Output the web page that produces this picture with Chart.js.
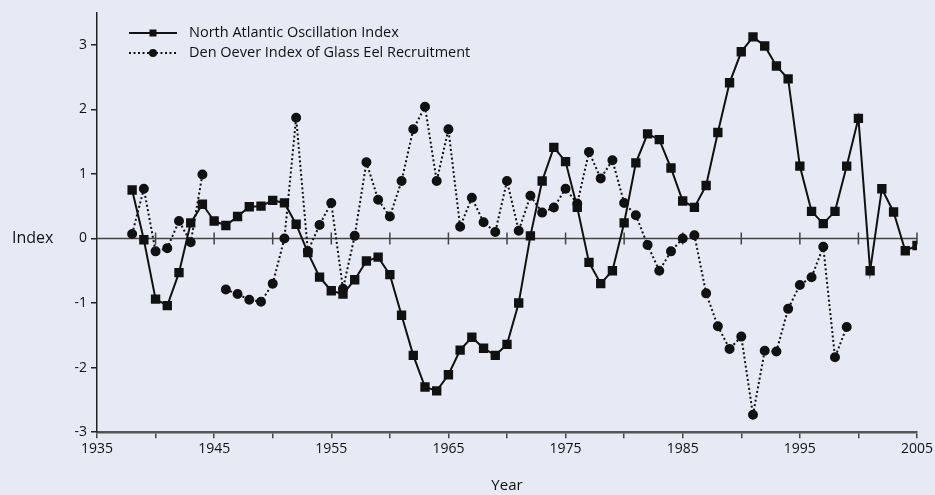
<!DOCTYPE html>
<html>
<head>
<meta charset="utf-8">
<script src="https://cdn.jsdelivr.net/npm/chart.js@4"></script>
<style>
  html, body { margin: 0; padding: 0; background: #e7e9f4; }
  #wrap { width: 935px; height: 495px; }
</style>
</head>
<body>
<div id="wrap"><canvas id="chart"></canvas></div>
<script>
// data
const years = [];
for (let y = 1938; y <= 2005; y++) years.push(y);

const naoValues = [
    0.75, -0.02, -0.94, -1.04, -0.53, 0.24, 0.53, 0.27, 0.20, 0.34,
    0.49, 0.50, 0.59, 0.55, 0.22, -0.22, -0.60, -0.81, -0.86, -0.64,
    -0.35, -0.29, -0.56, -1.19, -1.81, -2.30, -2.36, -2.11, -1.73, -1.53,
    -1.70, -1.81, -1.64, -1.00, 0.04, 0.89, 1.41, 1.19, 0.48, -0.37,
    -0.70, -0.50, 0.24, 1.17, 1.62, 1.53, 1.09, 0.58, 0.48, 0.82,
    1.64, 2.41, 2.89, 3.12, 2.98, 2.67, 2.47, 1.12, 0.42, 0.23,
    0.42, 1.12, 1.86, -0.50, 0.77, 0.41, -0.19, -0.11
];

const eelValues = [
    0.07, 0.77, -0.20, -0.15, 0.27, -0.06, 0.99, null, -0.79, -0.86,
    -0.95, -0.98, -0.70, 0.00, 1.87, -0.20, 0.21, 0.55, -0.78, 0.04,
    1.18, 0.60, 0.34, 0.89, 1.69, 2.04, 0.89, 1.69, 0.18, 0.63,
    0.25, 0.10, 0.89, 0.12, 0.66, 0.40, 0.48, 0.77, 0.54, 1.34,
    0.93, 1.21, 0.55, 0.36, -0.10, -0.50, -0.20, 0.00, 0.05, -0.85,
    -1.36, -1.71, -1.52, -2.73, -1.74, -1.75, -1.09, -0.72, -0.60, -0.13,
    -1.84, -1.37
];

const seriesNames = ['North Atlantic Oscillation Index', 'Den Oever Index of Glass Eel Recruitment'];
const yTickValues = [-3, -2, -1, 0, 1, 2, 3];
const xLabelYears = [1935, 1945, 1955, 1965, 1975, 1985, 1995, 2005];

const FONT = "'Open Sans', sans-serif";
const INK = '#111';

function toPoints(vals) {
    return vals.map((v, i) => ({ x: years[i], y: v }));
}

// zero line with crossing ticks, plus the "Index" label and legend
const extras = {
    id: 'extras',
    beforeDatasetsDraw(chart) {
        const { ctx, chartArea, scales } = chart;
        const y0 = scales.y.getPixelForValue(0);
        ctx.save();
        ctx.strokeStyle = '#444';
        ctx.lineWidth = 1.5;
        ctx.beginPath();
        ctx.moveTo(chartArea.left, y0);
        ctx.lineTo(chartArea.right, y0);
        for (let yr = 1940; yr <= 2005; yr += 5) {
            const px = scales.x.getPixelForValue(yr);
            ctx.moveTo(px, y0 - 6);
            ctx.lineTo(px, y0 + 6);
        }
        ctx.stroke();
        ctx.restore();
    },
    afterDraw(chart) {
        const { ctx, scales } = chart;
        const y0 = scales.y.getPixelForValue(0);
        ctx.save();
        ctx.fillStyle = INK;
        ctx.font = '16px ' + FONT;
        ctx.textAlign = 'left';
        ctx.textBaseline = 'middle';
        ctx.fillText('Index', 12, y0);

        const rows = [
            { y: 33, dash: [], marker: 'rect' },
            { y: 53, dash: [2, 2.5], marker: 'circle' }
        ];
        rows.forEach((r, i) => {
            ctx.strokeStyle = INK;
            ctx.fillStyle = INK;
            ctx.lineWidth = 2;
            ctx.setLineDash(r.dash);
            ctx.beginPath();
            ctx.moveTo(129, r.y);
            ctx.lineTo(177, r.y);
            ctx.stroke();
            ctx.setLineDash([]);
            if (r.marker === 'rect') {
                ctx.fillRect(149.5, r.y - 3.5, 7, 7);
            } else {
                ctx.beginPath();
                ctx.arc(153, r.y, 4, 0, Math.PI * 2);
                ctx.fill();
            }
            ctx.font = '14.5px ' + FONT;
            ctx.textBaseline = 'middle';
            ctx.fillText(seriesNames[i], 189, r.y);
        });
        ctx.restore();
    }
};

const ctx = document.getElementById('chart');

const data = {
    datasets: [
        {
            label: seriesNames[0],
            data: toPoints(naoValues),
            borderColor: INK,
            backgroundColor: INK,
            borderWidth: 2,
            pointStyle: 'rect',
            pointRadius: 5.2,
            pointHoverRadius: 5.2,
            tension: 0
        },
        {
            label: seriesNames[1],
            data: toPoints(eelValues),
            borderColor: INK,
            backgroundColor: INK,
            borderWidth: 2,
            borderDash: [2, 2.5],
            pointStyle: 'circle',
            pointRadius: 4,
            pointHoverRadius: 4,
            spanGaps: false,
            tension: 0
        }
    ]
};

const config = {
    type: 'line',
    data: data,
    plugins: [extras],
    options: {
        responsive: true,
        maintainAspectRatio: false,
        animation: false,
        layout: { padding: { left: 0, right: 18, top: 12, bottom: 0 } },
        plugins: {
            legend: { display: false },
            tooltip: { enabled: false }
        },
        scales: {
            x: {
                type: 'linear',
                min: 1935,
                max: 2005,
                afterBuildTicks(scale) {
                    const t = [];
                    for (let yr = 1935; yr <= 2005; yr += 5) t.push({ value: yr });
                    scale.ticks = t;
                },
                ticks: {
                    autoSkip: false,
                    maxRotation: 0,
                    color: INK,
                    font: { family: FONT, size: 14 },
                    padding: 2,
                    callback: (v) => xLabelYears.includes(v) ? String(v) : ''
                },
                grid: {
                    drawOnChartArea: false,
                    tickLength: 6,
                    color: '#444',
                    lineWidth: 1.5
                },
                border: { color: '#555', width: 2.5 },
                title: {
                    display: true,
                    text: 'Year',
                    color: INK,
                    font: { family: FONT, size: 15 },
                    padding: { top: 18, bottom: 0 }
                }
            },
            y: {
                type: 'linear',
                min: -3,
                max: 3.5,
                afterBuildTicks(scale) {
                    scale.ticks = yTickValues.map(v => ({ value: v }));
                },
                afterFit(scale) {
                    scale.width = 97;
                },
                ticks: {
                    color: INK,
                    font: { family: FONT, size: 14 },
                    padding: 4
                },
                grid: {
                    drawOnChartArea: false,
                    tickLength: 6,
                    color: '#222',
                    lineWidth: 1.5
                },
                border: { color: '#222', width: 1.5 }
            }
        }
    }
};

new Chart(ctx, config);
</script>
</body>
</html>
